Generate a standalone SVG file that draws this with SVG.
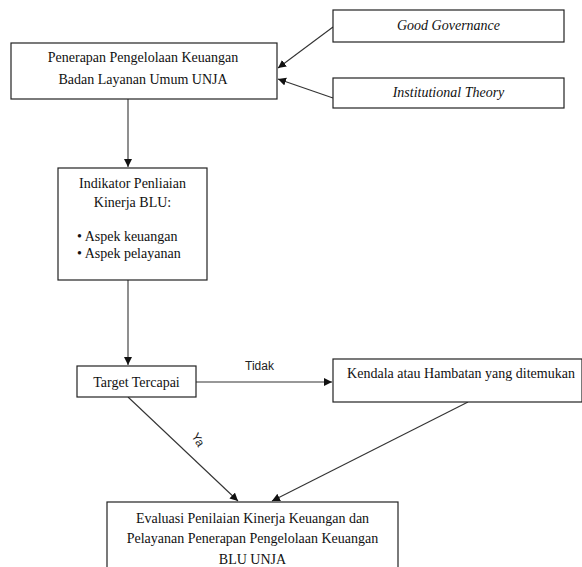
<svg xmlns="http://www.w3.org/2000/svg" width="582" height="567" viewBox="0 0 582 567">
<style>
.box{fill:#fff;stroke:#222;stroke-width:1.2}
.t{font-family:"Liberation Serif","Times New Roman",serif;font-size:14px;fill:#111;text-anchor:middle}
.i{font-style:italic}
.l{font-family:"Liberation Sans",Arial,sans-serif;font-size:12px;fill:#222}
.c{stroke:#333;stroke-width:1.1;fill:none;marker-end:url(#ah)}
</style>
<defs>
<marker id="ah" markerUnits="userSpaceOnUse" markerWidth="10" markerHeight="10" refX="8" refY="4" orient="auto">
<path d="M0,0 L8,4 L0,8 Z" fill="#111"/>
</marker>
</defs>
<rect width="582" height="567" fill="#fff"/>
<g id="connectors">
<line class="c" x1="333" y1="27" x2="278" y2="68"/>
<line class="c" x1="333" y1="98" x2="278" y2="79"/>
<line class="c" x1="128" y1="99" x2="128" y2="167"/>
<line class="c" x1="128" y1="280" x2="128" y2="365"/>
<line class="c" x1="196" y1="382" x2="332" y2="382"/>
<line class="c" x1="128" y1="397" x2="238" y2="501"/>
<line class="c" x1="468" y1="402" x2="272" y2="501"/>
<text class="l" x="245" y="370">Tidak</text>
<text class="l" x="0" y="0" transform="translate(191,436) rotate(58)">Ya</text>
</g>
<g id="gg">
<rect class="box" x="333" y="10" width="231" height="32"/>
<text class="t i" x="448.5" y="30">Good Governance</text>
</g>
<g id="it">
<rect class="box" x="333" y="78" width="231" height="30"/>
<text class="t i" x="448.5" y="97">Institutional Theory</text>
</g>
<g id="penerapan">
<rect class="box" x="11" y="43" width="266" height="56"/>
<text class="t" x="143" y="61.5">Penerapan Pengelolaan Keuangan</text>
<text class="t" x="143" y="84">Badan Layanan Umum UNJA</text>
</g>
<g id="indikator">
<rect class="box" x="58" y="168" width="149" height="112"/>
<text class="t" x="132.5" y="188">Indikator Penliaian</text>
<text class="t" x="132.5" y="207">Kinerja BLU:</text>
<text class="t" x="77" y="241" style="text-anchor:start">• Aspek keuangan</text>
<text class="t" x="77" y="258" style="text-anchor:start">• Aspek pelayanan</text>
</g>
<g id="target">
<rect class="box" x="77" y="366" width="119" height="31"/>
<text class="t" x="136.5" y="387">Target Tercapai</text>
</g>
<g id="kendala">
<rect class="box" x="333" y="359" width="249" height="43"/>
<text class="t" x="461" y="378">Kendala atau Hambatan yang ditemukan</text>
</g>
<g id="evaluasi">
<rect class="box" x="107" y="502" width="291" height="70"/>
<text class="t" x="252.5" y="523">Evaluasi Penilaian Kinerja Keuangan dan</text>
<text class="t" x="252.5" y="543">Pelayanan Penerapan Pengelolaan Keuangan</text>
<text class="t" x="252.5" y="564">BLU UNJA</text>
</g>
</svg>
